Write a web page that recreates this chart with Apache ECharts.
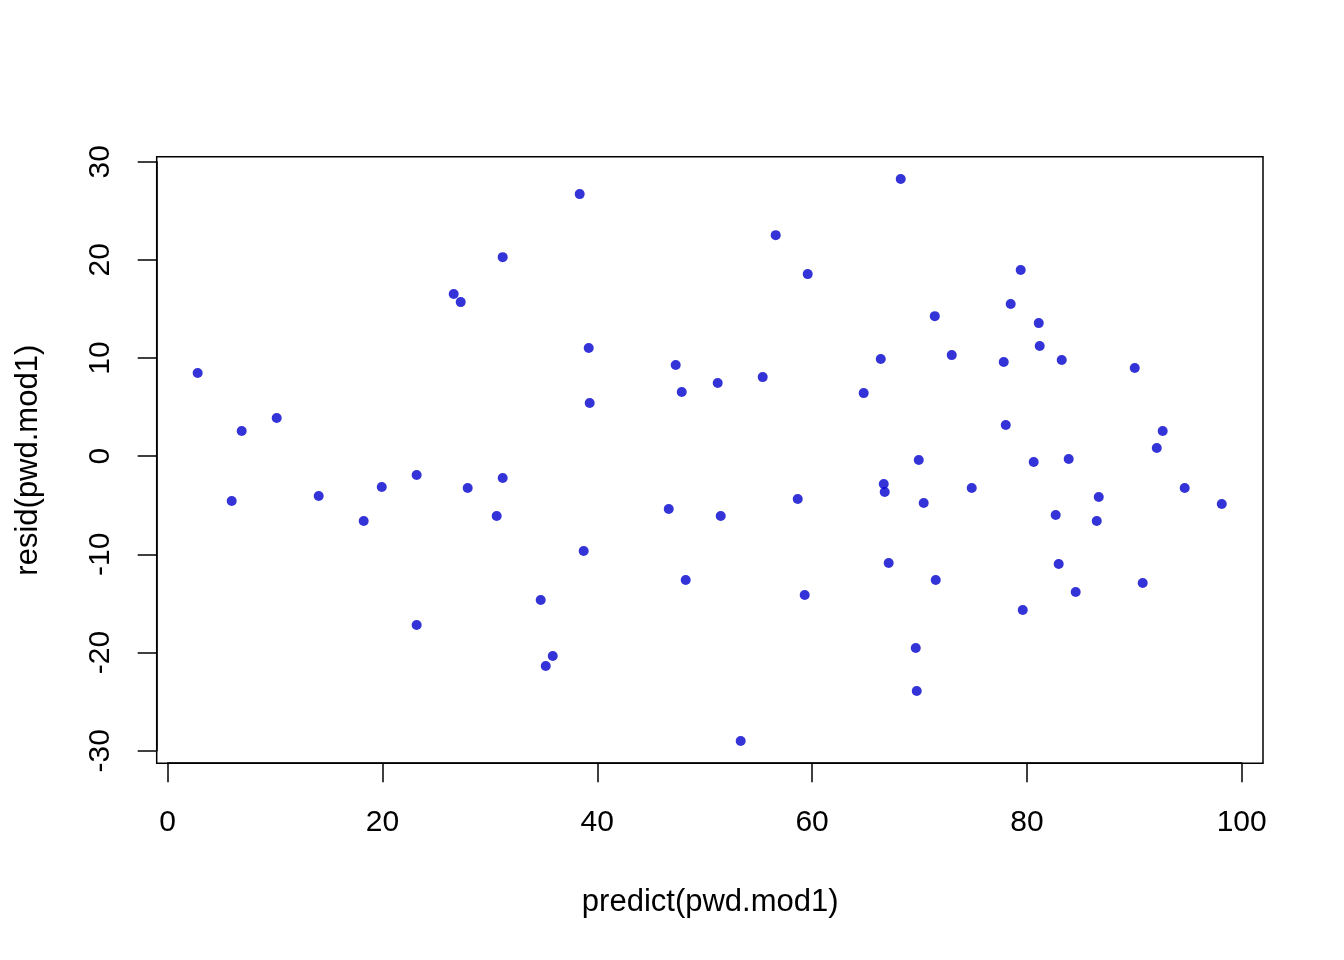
<!DOCTYPE html>
<html><head><meta charset="utf-8">
<script src="https://cdn.jsdelivr.net/npm/echarts@6/dist/echarts.min.js"></script>
<style>html,body{margin:0;padding:0;background:#fff}#c{width:1344px;height:960px}</style>
</head><body><div id="c"></div>
<script>
var predictVals = [2.79,5.96,6.89,10.15,14.06,18.25,19.93,23.18,23.18,26.63,27.28,27.93,30.63,31.19,31.19,34.73,35.2,35.85,38.36,38.73,39.2,39.29,46.65,47.3,47.86,48.23,51.21,51.49,53.35,55.4,56.61,58.66,59.31,59.59,64.8,66.39,66.67,66.76,67.13,68.25,69.65,69.74,69.93,70.39,71.42,71.51,73.0,74.86,77.84,78.03,78.49,79.42,79.61,80.63,81.1,81.19,82.68,82.96,83.24,83.89,84.54,86.5,86.69,90.04,90.78,92.09,92.64,94.69,98.14];
var residVals = [8.47,-4.56,2.56,3.89,-4.05,-6.6,-3.14,-1.92,-17.19,16.52,15.7,-3.24,-6.09,20.28,-2.22,-14.64,-21.37,-20.35,26.7,-9.66,11.02,5.42,-5.38,9.29,6.54,-12.61,7.45,-6.09,-29.0,8.06,22.52,-4.36,-14.13,18.55,6.43,9.9,-2.83,-3.65,-10.88,28.23,-19.53,-23.91,-0.39,-4.77,14.27,-12.61,10.3,-3.24,9.59,3.18,15.5,18.96,-15.66,-0.59,13.56,11.22,-5.99,-10.98,9.8,-0.29,-13.83,-6.6,-4.16,8.98,-12.91,0.83,2.56,-3.24,-4.87];
var xTicks = [0,20,40,60,80,100];
var yTicks = [-30,-20,-10,0,10,20,30];
var pts = predictVals.map(function(v,i){return [v,residVals[i]];});
var font = 'Liberation Sans, Arial, sans-serif';
var chart = echarts.init(document.getElementById('c'));
chart.setOption({
  animation:false,
  backgroundColor:'#fff',
  grid:[
    {left:156.7, top:156.7, width:1106.3, height:606.6, show:true, borderColor:'#000', borderWidth:1.5, backgroundColor:'transparent', containLabel:false, outerBoundsMode:'none'},
    {left:167.7, top:161.7, width:1074, height:589, containLabel:false, outerBoundsMode:'none'}
  ],
  xAxis:[
    {gridIndex:0, type:'value', min:-1.024, max:101.98, show:false},
    {gridIndex:1, type:'value', min:xTicks[0], max:xTicks[xTicks.length-1], interval:20, offset:12.5,
     name:'predict(pwd.mod1)', nameLocation:'middle', nameGap:124,
     nameTextStyle:{fontFamily:font, fontSize:31, color:'#000', padding:[0,0,0,11]},
     axisLine:{show:true, onZero:false, lineStyle:{color:'#000', width:1.5}},
     axisTick:{show:true, length:19, lineStyle:{color:'#000', width:1.5}},
     axisLabel:{fontFamily:font, fontSize:30, color:'#000', margin:45},
     splitLine:{show:false}}
  ],
  yAxis:[
    {gridIndex:0, type:'value', min:-31.28, max:30.51, show:false},
    {gridIndex:1, type:'value', min:yTicks[0], max:yTicks[yTicks.length-1], interval:10, offset:11,
     name:'resid(pwd.mod1)', nameLocation:'middle', nameGap:113, nameRotate:90,
     nameTextStyle:{fontFamily:font, fontSize:31, color:'#000', padding:[0,8,0,0]},
     axisLine:{show:true, onZero:false, lineStyle:{color:'#000', width:1.5}},
     axisTick:{show:true, length:19, lineStyle:{color:'#000', width:1.5}},
     axisLabel:{fontFamily:font, fontSize:30, color:'#000', rotate:90, margin:41},
     splitLine:{show:false}}
  ],
  series:[{type:'scatter', xAxisIndex:0, yAxisIndex:0, data:pts, symbol:'circle', symbolSize:10,
    itemStyle:{color:'#0000CD'}}]
});
</script></body></html>
